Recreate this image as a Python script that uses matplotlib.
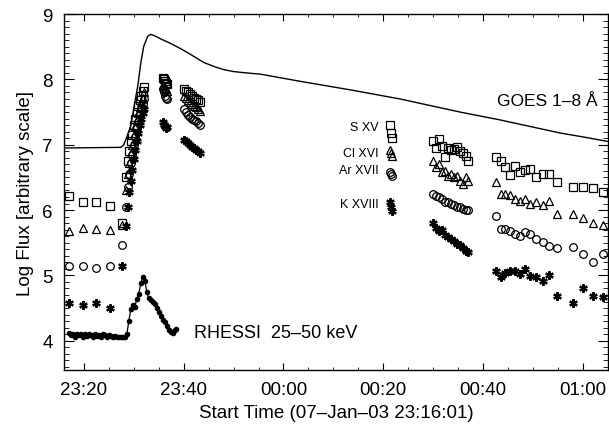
import matplotlib
matplotlib.use("Agg")
import matplotlib.pyplot as plt
from matplotlib.ticker import MultipleLocator, FixedLocator, FixedFormatter

plt.rcParams['font.family'] = ['Liberation Sans', 'DejaVu Sans']

# time axis: minutes after 23:00 on 07-Jan-03
goes_t = [16.0, 27.4, 28.0, 28.6, 29.4, 30.2, 30.8, 31.4, 32.0, 32.8, 33.4, 34.4,
          35.4, 37.4, 39.4, 41.0, 42.5, 44.0, 46.0, 48.0, 50.0, 52.5, 55.4, 63.4,
          73.4, 83.4, 95.4, 103.4, 108.8, 115.4, 120.0, 125.0]
goes_v = [6.95, 6.96, 7.00, 7.12, 7.29, 7.65, 7.90, 8.25, 8.51, 8.66, 8.69, 8.66,
          8.62, 8.55, 8.47, 8.40, 8.33, 8.26, 8.20, 8.15, 8.12, 8.10, 8.08, 7.97,
          7.84, 7.70, 7.50, 7.38, 7.29, 7.18, 7.12, 7.05]

rhessi_t = [17.0, 17.4, 17.8, 18.2, 18.6, 19.0, 19.4, 19.8, 20.2, 20.6, 21.0, 21.4,
            21.8, 22.2, 22.6, 23.0, 23.4, 23.8, 24.2, 24.6, 25.0, 25.4, 25.8, 26.2,
            26.6, 27.0, 27.4, 27.8, 28.2, 28.6, 29.0, 29.4, 29.8, 30.2, 30.6, 31.0,
            31.4, 31.8, 32.2, 32.6, 33.0, 33.4, 33.8, 34.2, 34.6, 35.0, 35.4, 35.8,
            36.2, 36.6, 37.0, 37.4, 37.8, 38.2, 38.4]
rhessi_v = [4.12, 4.08, 4.10, 4.05, 4.10, 4.08, 4.11, 4.06, 4.10, 4.07, 4.11, 4.08,
            4.06, 4.10, 4.07, 4.09, 4.06, 4.10, 4.08, 4.06, 4.09, 4.07, 4.06, 4.07,
            4.06, 4.06, 4.05, 4.06, 4.06, 4.10, 4.30, 4.48, 4.55, 4.52, 4.64, 4.72,
            4.88, 4.97, 4.92, 4.75, 4.65, 4.62, 4.60, 4.56, 4.50, 4.44, 4.38, 4.32,
            4.28, 4.22, 4.17, 4.13, 4.12, 4.16, 4.18]

# spectral line fluxes, common times
spec_t = [17.0, 19.8, 22.4, 25.2,
          27.6, 28.4, 28.8, 29.1, 29.4, 29.7, 30.0, 30.3, 30.6, 30.9, 31.2, 31.5, 31.8, 32.0,
          35.8, 36.0, 36.2, 36.4, 36.6,
          40.0, 40.4, 40.8, 41.2, 41.6, 42.0, 42.4, 42.8, 43.2,
          81.4, 81.6, 81.8,
          90.0, 90.6, 91.2, 91.8, 92.4, 93.0, 93.6, 94.2, 94.8, 95.4, 96.0, 96.6, 97.0,
          102.6, 103.6, 104.4, 105.4, 106.4, 107.4, 108.4, 109.4, 110.6, 112.0, 113.2,
          114.8, 118.0, 120.0, 122.0, 124.0]
sxv = [6.22, 6.13, 6.12, 6.06,
       5.80, 6.50, 6.75, 6.90, 7.05, 7.15, 7.30, 7.40, 7.50, 7.60, 7.68, 7.75, 7.82, 7.88,
       8.02, 8.00, 7.97, 7.95, 7.93,
       7.85, 7.83, 7.80, 7.78, 7.75, 7.72, 7.70, 7.68, 7.65,
       7.30, 7.18, 7.10,
       7.06, 6.95, 7.09, 6.98, 6.81, 6.95, 6.92, 6.94, 6.97, 6.90, 6.88, 6.82, 6.75,
       6.81, 6.75, 6.66, 6.54, 6.68, 6.58, 6.62, 6.63, 6.51, 6.55, 6.55,
       6.43, 6.35, 6.35, 6.34, 6.28]
clxvi = [5.68, 5.72, 5.71, 5.70,
         5.77, 6.30, 6.55, 6.72, 6.88, 7.00, 7.15, 7.28, 7.38, 7.48, 7.57, 7.65, 7.72, 7.80,
         7.92, 7.90, 7.87, 7.85, 7.83,
         7.75, 7.72, 7.68, 7.65, 7.62, 7.60, 7.57, 7.55, 7.52,
         6.92, 6.87, 6.83,
         6.75, 6.66, 6.70, 6.58, 6.60, 6.52, 6.55, 6.50, 6.52, 6.45, 6.40, 6.50, 6.45,
         6.43, 6.25, 6.25, 6.23, 6.17, 6.14, 6.17, 6.09, 6.13, 6.07, 6.14,
         5.94, 5.94, 5.88, 5.80, 5.77]
arxvii = [5.15, 5.14, 5.12, 5.15,
          5.47, 6.05, 6.35, 6.55, 6.72, 6.85, 7.00, 7.12, 7.25, 7.35, 7.45, 7.55, 7.62, 7.70,
          7.85, 7.80, 7.75, 7.72, 7.70,
          7.55, 7.50, 7.45, 7.42, 7.40, 7.38, 7.36, 7.33, 7.30,
          6.58, 6.55, 6.52,
          6.25, 6.22, 6.20, 6.17, 6.13, 6.12, 6.09, 6.07, 6.05, 6.04, 6.02, 6.00, 6.00,
          5.91, 5.71, 5.71, 5.68, 5.64, 5.60, 5.67, 5.64, 5.56, 5.51, 5.45,
          5.42, 5.44, 5.33, 5.21, 5.33]
kxviii = [4.58, 4.55, 4.58, 4.50,
          5.15, 5.76, 6.05, 6.28, 6.45, 6.62, 6.78, 6.92, 7.05, 7.18, 7.30, 7.40, 7.48, 7.55,
          7.35, 7.30, 7.28, 7.25, 7.27,
          7.08, 7.05, 7.02, 7.00, 6.97, 6.95, 6.92, 6.90, 6.88,
          6.13, 6.05, 5.98,
          5.80, 5.72, 5.68, 5.70, 5.62, 5.58, 5.56, 5.52, 5.48, 5.46, 5.42, 5.38, 5.36,
          5.07, 4.98, 5.04, 5.07, 5.07, 5.02, 5.10, 4.99, 4.98, 4.92, 5.01,
          4.69, 4.57, 4.80, 4.69, 4.67]

line_names = ['S XV', 'Cl XVI', 'Ar XVII', 'K XVIII']
label_y = [7.27, 6.87, 6.61, 6.09]

xtick_pos = [20, 40, 60, 80, 100, 120]
xtick_lab = ['23:20', '23:40', '00:00', '00:20', '00:40', '01:00']

fig = plt.figure(figsize=(6.09, 4.31), dpi=100)
ax = fig.add_axes([0.105, 0.139, 0.893, 0.826])

ax.plot(goes_t, goes_v, color='black', lw=1.0)
ax.plot(rhessi_t, rhessi_v, color='black', lw=0.9, marker='o', ms=3.0, mfc='black', mec='black')

ax.plot(spec_t, sxv, ls='none', marker='s', ms=5.5, mfc='none', mec='black', mew=0.9)
ax.plot(spec_t, clxvi, ls='none', marker='^', ms=5.5, mfc='none', mec='black', mew=0.9)
ax.plot(spec_t, arxvii, ls='none', marker='o', ms=5.5, mfc='none', mec='black', mew=0.9)
ax.plot(spec_t, kxviii, ls='none', marker=(6, 2, 0), ms=6, mec='black', mew=1.6)

for name, yv in zip(line_names, label_y):
    ax.text(79.0, yv, name, ha='right', va='center', fontsize=9)

ax.text(102.8, 7.68, 'GOES 1\u20138 \u00c5', ha='left', va='center', fontsize=12.5)
ax.text(42.0, 4.12, 'RHESSI  25\u201350 keV', ha='left', va='center', fontsize=13)

ax.set_xlim(16.0, 125.0)
ax.set_ylim(3.55, 9.0)
ax.xaxis.set_major_locator(FixedLocator(xtick_pos))
ax.xaxis.set_major_formatter(FixedFormatter(xtick_lab))
ax.xaxis.set_minor_locator(MultipleLocator(5))
ax.yaxis.set_major_locator(MultipleLocator(1))
ax.yaxis.set_minor_locator(MultipleLocator(0.1))
ax.tick_params(which='both', direction='in', top=True, right=True, labelsize=13.5)
ax.tick_params(axis='x', which='major', length=5, pad=8)
ax.tick_params(axis='x', which='minor', length=2.5)
ax.tick_params(axis='y', which='major', length=7, pad=8)
ax.tick_params(axis='y', which='minor', length=3.5)
for s in ax.spines.values():
    s.set_linewidth(1.0)

ax.set_xlabel('Start Time (07\u2013Jan\u201303 23:16:01)', fontsize=13.5, labelpad=4)
ax.set_ylabel('Log Flux [arbitrary scale]', fontsize=13.5, labelpad=6)

fig.savefig('out.png', dpi=100)
